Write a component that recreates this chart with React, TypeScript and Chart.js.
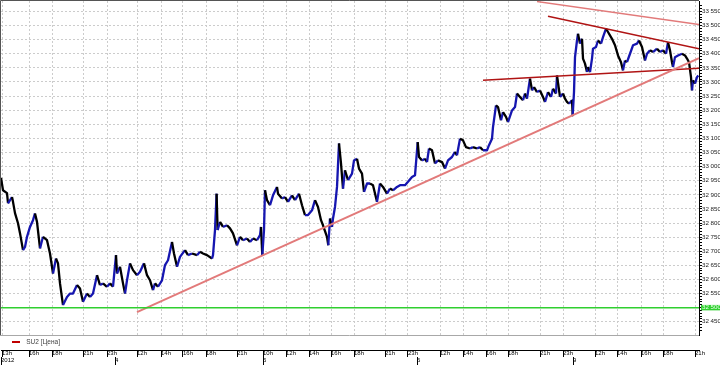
import { useEffect, useRef } from 'react';
import { Chart, registerables } from 'chart.js';

Chart.register(...registerables);

const FONT = "'Liberation Sans', Arial, sans-serif";
Chart.defaults.font.family = FONT;

const SERIES_NAME = 'SU2 [Цена]';

// [trading-bar index, price]
const DAY3: [number, number][] = [
  [0, 32960], [2, 32916], [6, 32906], [7, 32870], [11, 32892], [12, 32875], [14, 32835], [17, 32799],
  [19, 32764], [22, 32704], [24, 32715], [26, 32751], [29, 32786], [32, 32810], [34, 32834], [36, 32804],
  [39, 32710], [42, 32751], [46, 32739], [49, 32692], [52, 32621], [55, 32674], [57, 32657], [59, 32586],
  [62, 32509], [66, 32538], [69, 32550], [72, 32550], [76, 32580], [79, 32568], [82, 32521], [86, 32550],
  [89, 32538], [92, 32550], [96, 32615], [99, 32580], [102, 32586], [106, 32574], [109, 32586], [112, 32574],
];
const DAY4: [number, number][] = [
  [115, 32686], [116, 32621], [119, 32645], [122, 32586], [124, 32550], [126, 32597], [129, 32657], [132, 32633],
  [136, 32615], [139, 32627], [143, 32657], [146, 32615], [149, 32597], [152, 32562], [154, 32586], [157, 32574],
  [161, 32597], [164, 32651], [167, 32668], [171, 32733], [173, 32692], [176, 32645], [179, 32680], [184, 32704],
  [187, 32686], [191, 32692], [196, 32686], [199, 32698], [202, 32692], [206, 32686], [211, 32674], [212, 32686],
  [214, 32775], [215.6, 32904], [216.6, 32775], [219, 32804], [222, 32786], [226, 32792], [229, 32781], [232, 32763],
  [236, 32721], [239, 32751], [242, 32739], [246, 32745], [249, 32733], [252, 32745], [256, 32739], [259, 32757],
  [260, 32786], [261.3, 32686],
];
const DAY5: [number, number][] = [
  [263, 32775], [264, 32916], [266, 32881], [269, 32863], [272, 32898], [276, 32928], [277, 32904], [281, 32887],
  [284, 32892], [287, 32875], [291, 32898], [294, 32881], [298, 32904], [301, 32863], [304, 32828], [307, 32828],
  [311, 32845], [314, 32881], [317, 32857], [320, 32810], [322, 32792], [326, 32751], [327.3, 32721], [329, 32816],
  [331, 32786], [332, 32816], [334, 32857], [336, 32928], [338, 33082], [340, 33011], [342, 32922], [344, 32987],
  [347, 32952], [351, 32975], [353, 33022], [356, 33028], [358, 32993], [361, 32975], [363, 32910], [366, 32940],
  [369, 32940], [372, 32934], [376, 32875], [379, 32940], [382, 32928], [386, 32904], [389, 32922], [392, 32916],
  [396, 32928], [399, 32934], [404, 32934], [407, 32946], [411, 32963], [414, 32969],
];
const DAY6: [number, number][] = [
  [416.7, 33087], [418, 33034], [421, 33022], [424, 33028], [426, 33016], [428, 33064], [431, 33058], [434, 33011],
  [437, 33022], [441, 33016], [444, 32993], [447, 33022], [451, 33034], [454, 33052], [456, 33040], [459, 33099],
  [462, 33093], [465, 33069], [469, 33064], [472, 33069], [476, 33064], [479, 33069], [482, 33058], [486, 33058],
  [488, 33076], [491, 33099], [492, 33140], [495, 33217], [497, 33211], [500, 33164], [502, 33193], [505, 33176],
  [507, 33158], [511, 33199], [514, 33211], [516, 33259], [519, 33247], [522, 33235], [524, 33259], [526, 33241],
  [529, 33312], [531, 33270], [533, 33282], [536, 33264], [539, 33270], [542, 33247], [544, 33229], [547, 33264],
  [550, 33247], [552, 33276], [555, 33259], [556, 33323], [559, 33247], [562, 33259], [564, 33241], [566, 33229],
  [568, 33223], [571, 33235], [571.7, 33182],
];
const DAY9: [number, number][] = [
  [573, 33264], [574, 33388], [576, 33447], [577, 33471], [579, 33436], [581, 33453], [582, 33383], [584, 33365],
  [586, 33335], [587, 33353], [589, 33335], [591, 33383], [592, 33418], [595, 33424], [597, 33447], [600, 33436],
  [602, 33459], [605, 33489], [607, 33477], [611, 33453], [614, 33430], [617, 33394], [620, 33370], [622, 33341],
  [624, 33376], [626, 33370], [629, 33400], [632, 33430], [636, 33436], [638, 33447], [641, 33424], [644, 33376],
  [646, 33400], [649, 33412], [652, 33406], [656, 33418], [659, 33406], [662, 33412], [665, 33400], [667, 33441],
  [669, 33412], [671, 33370], [672, 33353], [674, 33388], [677, 33394], [681, 33400], [684, 33394], [686, 33383],
  [688, 33370], [690, 33317], [691, 33270], [692, 33306], [694, 33294], [696, 33317], [697.3, 33323],
];

const SUPPORT_LEVEL = 32500;
const TREND_UP: [number, number][] = [[136, 32484], [698, 33384]];
const CHANNEL_TOP: [number, number][] = [[536, 33585], [698, 33504]];
const RESISTANCE: [number, number][] = [[547, 33533], [698, 33418]];
const NECKLINE: [number, number][] = [[482, 33306], [698, 33349]];
const SUPPORT_LINE: [number, number][] = [[0, SUPPORT_LEVEL], [698, SUPPORT_LEVEL]];

const HOUR_TICKS = [1, 28, 51, 82, 106, 136, 160, 182, 205, 236, 262, 285, 308, 330, 353, 384, 407, 439, 462, 485, 507, 539, 562, 594, 616, 640, 662, 694];
const HOUR_LABELS = ['13h', '16h', '18h', '21h', '23h', '12h', '14h', '16h', '18h', '21h', '10h', '12h', '14h', '16h', '18h', '21h', '23h', '12h', '14h', '16h', '18h', '21h', '23h', '12h', '14h', '16h', '18h', '21h'];
const DAY_TICKS = [0, 114, 262, 416, 572];
const DAY_LABELS = ['2012', '4', '5', '6', '9'];

const X_MIN = 0;
const X_MAX = 698;
const Y_MIN = 32403;
const Y_MAX = 33587;

const BLUE = '#1616b0';
const BLACK = '#000000';
const LIGHT_RED = '#e27a7a';
const DARK_RED = '#b01414';
const GREEN = '#2fcf2f';

const fmt = (v: number) => {
  const s = String(Math.round(v));
  return s.slice(0, -3) + ' ' + s.slice(-3);
};
const toXY = (arr: [number, number][]) => arr.map(([x, y]) => ({ x, y }));

const framePlugin = {
  id: 'frame',
  afterDraw(chart: any) {
    const { ctx, chartArea } = chart;
    ctx.save();
    ctx.lineWidth = 1;
    ctx.strokeStyle = '#a8a8a8';
    ctx.beginPath();
    ctx.moveTo(0, chartArea.bottom + 0.5);
    ctx.lineTo(chartArea.right, chartArea.bottom + 0.5);
    ctx.stroke();
    ctx.strokeStyle = '#555555';
    ctx.beginPath();
    ctx.moveTo(0.5, chartArea.bottom);
    ctx.lineTo(0.5, 0.5);
    ctx.lineTo(chartArea.right, 0.5);
    ctx.stroke();
    ctx.restore();
  },
};

export default function App() {
  const ref = useRef<HTMLCanvasElement | null>(null);

  useEffect(() => {
    document.body.style.margin = '0';
    const canvas = ref.current;
    if (!canvas) return;

    const legendImg = document.createElement('canvas');
    legendImg.width = 20;
    legendImg.height = 2;
    const lctx = legendImg.getContext('2d');
    if (lctx) {
      lctx.fillStyle = '#c00000';
      lctx.fillRect(8, 0, 8, 2);
    }

    const trend = (data: [number, number][], color: string, width: number) => ({
      label: 'trend',
      data: toXY(data),
      borderColor: color,
      backgroundColor: color,
      borderWidth: width,
      pointRadius: 0,
      order: 1,
    });

    const chart = new Chart(canvas, {
      type: 'line',
      data: {
        datasets: [
          {
            label: SERIES_NAME,
            data: toXY([...DAY3, ...DAY4, ...DAY5, ...DAY6, ...DAY9]),
            borderColor: BLUE,
            backgroundColor: '#c00000',
            borderWidth: 2.3,
            borderJoinStyle: 'round',
            pointRadius: 0,
            tension: 0,
            order: 2,
            segment: {
              borderColor: (c: any) => (c.p1.parsed.y >= c.p0.parsed.y ? BLUE : BLACK),
            },
          } as any,
          trend(SUPPORT_LINE, GREEN, 1.5),
          trend(TREND_UP, LIGHT_RED, 2),
          trend(CHANNEL_TOP, LIGHT_RED, 1.5),
          trend(RESISTANCE, DARK_RED, 1.5),
          trend(NECKLINE, DARK_RED, 1.5),
        ],
      },
      options: {
        responsive: false,
        animation: false,
        devicePixelRatio: 1,
        layout: { padding: { top: 1, left: 1, right: 0, bottom: 0 } },
        plugins: {
          tooltip: { enabled: false },
          legend: {
            position: 'bottom',
            align: 'start',
            maxHeight: 15,
            labels: {
              usePointStyle: true,
              pointStyle: legendImg as any,
              pointStyleWidth: 18,
              padding: 4,
              color: '#444444',
              font: { size: 6.5, family: FONT },
              filter: (item: any) => item.datasetIndex === 0,
            },
          },
        },
        scales: {
          x: {
            type: 'linear',
            position: 'bottom',
            min: X_MIN,
            max: X_MAX,
            weight: 2000,
            afterBuildTicks: (s: any) => {
              s.ticks = HOUR_TICKS.map((v) => ({ value: v }));
            },
            afterFit: (s: any) => {
              s.height = 7;
              s.paddingLeft = 0;
              s.paddingRight = 0;
            },
            ticks: {
              autoSkip: false,
              maxRotation: 0,
              minRotation: 0,
              align: 'start',
              padding: -7,
              color: '#000000',
              font: { size: 6, family: FONT },
              callback: (_v: any, i: number) => HOUR_LABELS[i],
            },
            grid: {
              color: '#cccccc',
              tickColor: '#000000',
              tickLength: 7,
              tickBorderDash: [],
            } as any,
            border: { display: true, color: '#000000', dash: [2, 2] },
          },
          x2: {
            type: 'linear',
            position: 'bottom',
            min: X_MIN,
            max: X_MAX,
            weight: 3000,
            afterBuildTicks: (s: any) => {
              s.ticks = DAY_TICKS.map((v) => ({ value: v }));
            },
            afterFit: (s: any) => {
              s.height = 8;
              s.paddingLeft = 0;
              s.paddingRight = 0;
            },
            ticks: {
              autoSkip: false,
              maxRotation: 0,
              minRotation: 0,
              align: 'start',
              padding: -8,
              color: '#000000',
              font: { size: 6, family: FONT },
              callback: (_v: any, i: number) => DAY_LABELS[i],
            },
            grid: { drawOnChartArea: false, color: '#000000', tickColor: '#000000', tickLength: 8 },
            border: { display: false },
          },
          y: {
            position: 'right',
            min: Y_MIN,
            max: Y_MAX,
            afterBuildTicks: (s: any) => {
              s.ticks = s.ticks.filter((t: any) => t.value % 10 === 0);
            },
            afterFit: (s: any) => {
              s.width = 21;
              s.paddingTop = 0;
              s.paddingBottom = 0;
            },
            ticks: {
              stepSize: 10,
              autoSkip: false,
              padding: 0,
              font: { size: 6.2, family: FONT },
              color: (c: any) => (c.tick && c.tick.value === SUPPORT_LEVEL ? '#eaffea' : '#222222'),
              showLabelBackdrop: (c: any) => !!(c.tick && c.tick.value === SUPPORT_LEVEL),
              backdropColor: GREEN,
              backdropPadding: { top: -1, bottom: -1, left: 1, right: 2 },
              callback: (v: any) => (Number(v) % 50 === 0 ? fmt(Number(v)) : ''),
            } as any,
            grid: {
              color: (c: any) => (c.tick && c.tick.value % 50 === 0 ? '#cccccc' : 'rgba(0,0,0,0)'),
              tickColor: '#000000',
              tickLength: 3,
              tickBorderDash: [],
            } as any,
            border: { display: true, color: '#000000', dash: [2, 2] },
          },
        },
      } as any,
      plugins: [framePlugin],
    });

    return () => chart.destroy();
  }, []);

  return (
    <div style={{ width: 720, height: 365, background: '#ffffff' }}>
      <canvas ref={ref} width={720} height={365} style={{ display: 'block' }} />
    </div>
  );
}
